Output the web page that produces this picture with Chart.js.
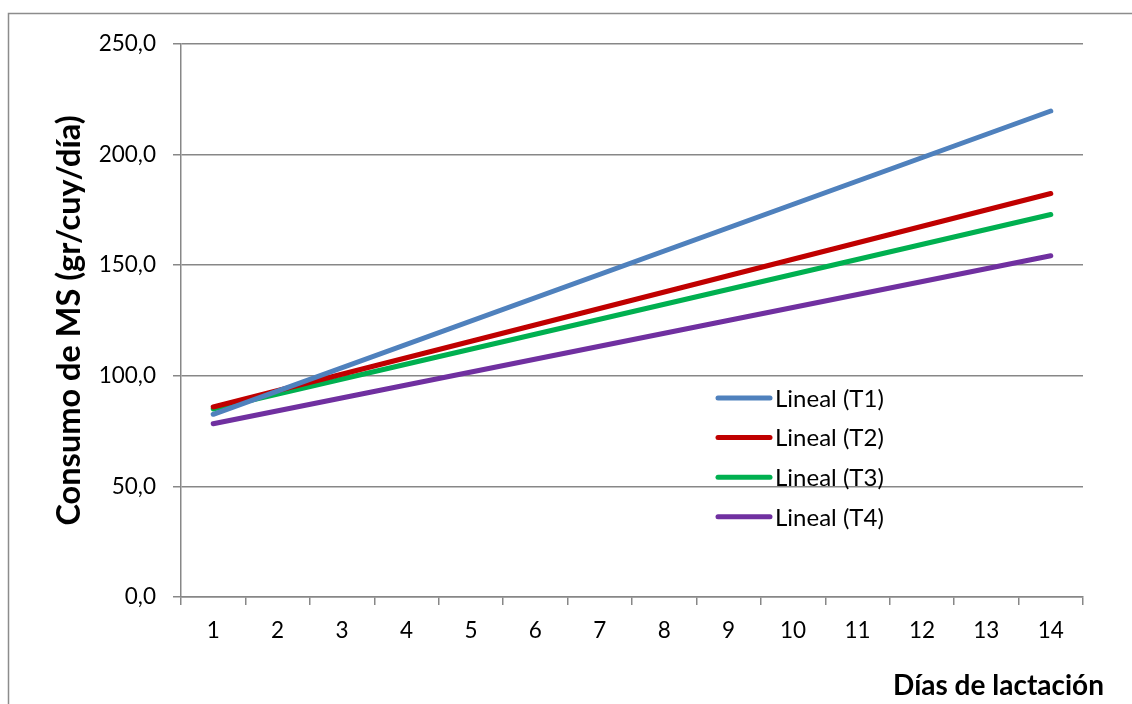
<!DOCTYPE html>
<html>
<head>
<meta charset="utf-8">
<script src="https://cdn.jsdelivr.net/npm/chart.js@4.4.1/dist/chart.umd.min.js"></script>
<style>
  html, body { margin: 0; padding: 0; background: #ffffff; }
  #wrap { position: relative; width: 1132px; height: 704px; }
</style>
</head>
<body>
<div id="wrap"><canvas id="c" width="1132" height="704"></canvas></div>
<script>
// Days of lactation (category axis)
const dias = ['1','2','3','4','5','6','7','8','9','10','11','12','13','14'];

// Linear trend lines: value at day 1 and at day 14 (straight segment between them)
const lineT1 = [82.6, null, null, null, null, null, null, null, null, null, null, null, null, 219.7];
const lineT2 = [85.9, null, null, null, null, null, null, null, null, null, null, null, null, 182.4];
const lineT3 = [85.0, null, null, null, null, null, null, null, null, null, null, null, null, 172.9];
const lineT4 = [78.3, null, null, null, null, null, null, null, null, null, null, null, null, 154.3];

const seriesNames = ['Lineal (T1)', 'Lineal (T2)', 'Lineal (T3)', 'Lineal (T4)'];
const yTicks = [0, 50, 100, 150, 200, 250];

const colors = ['#4F81BD', '#C00000', '#00B050', '#7030A0'];
const FONT = 'Lato, "Open Sans", sans-serif';
const GRID = '#878787';

const fmt = v => v.toFixed(1).replace('.', ',');

// Outer frame, x-axis title and the in-plot legend
const decor = {
  id: 'decor',
  beforeDraw(chart) {
    const ctx = chart.ctx;
    ctx.save();
    ctx.fillStyle = '#ffffff';
    ctx.fillRect(0, 0, chart.width, chart.height);
    ctx.strokeStyle = '#8c8c8c';
    ctx.lineWidth = 1.5;
    ctx.beginPath();
    ctx.moveTo(8.5, 710);
    ctx.lineTo(8.5, 13.5);
    ctx.lineTo(1140, 13.5);
    ctx.stroke();
    ctx.restore();
  },
  afterDraw(chart) {
    const ctx = chart.ctx;
    ctx.save();
    ctx.fillStyle = '#000000';
    ctx.font = 'bold 28px ' + FONT;
    ctx.textAlign = 'right';
    ctx.textBaseline = 'alphabetic';
    ctx.fillText('Días de lactación', 1104, 695);

    // legend
    ctx.font = '24px ' + FONT;
    ctx.textAlign = 'left';
    ctx.textBaseline = 'middle';
    chart.data.datasets.forEach((ds, i) => {
      const y = 398 + i * 39.6;
      ctx.strokeStyle = ds.borderColor;
      ctx.lineWidth = 5;
      ctx.lineCap = 'round';
      ctx.beginPath();
      ctx.moveTo(718, y);
      ctx.lineTo(770, y);
      ctx.stroke();
      ctx.fillStyle = '#000000';
      ctx.fillText(ds.label, 775, y + 1);
    });
    ctx.restore();
  }
};

const seriesData = [lineT1, lineT2, lineT3, lineT4];

new Chart(document.getElementById('c'), {
  type: 'line',
  data: {
    labels: dias,
    datasets: seriesData.map((d, i) => ({
      label: seriesNames[i],
      data: d,
      borderColor: colors[i],
      backgroundColor: colors[i],
      borderWidth: 5,
      borderCapStyle: 'round',
      pointRadius: 0,
      spanGaps: true,
      tension: 0
    }))
  },
  options: {
    responsive: false,
    animation: false,
    devicePixelRatio: 1,
    layout: { padding: { left: 50, top: 44, right: 1132 - 1083, bottom: 0 } },
    plugins: {
      legend: { display: false },
      tooltip: { enabled: false }
    },
    scales: {
      x: {
        type: 'category',
        offset: true,
        grid: {
          offset: true,
          drawOnChartArea: false,
          drawTicks: true,
          tickLength: 8,
          color: GRID,
          lineWidth: 1.5
        },
        border: { display: true, color: GRID, width: 1.5 },
        ticks: {
          color: '#000000',
          font: { family: FONT, size: 22.5 },
          padding: 12,
          maxRotation: 0,
          autoSkip: false
        },
        afterFit(scale) { scale.height = 704 - 597; }
      },
      y: {
        min: 0,
        max: 250,
        afterBuildTicks(scale) { scale.ticks = yTicks.map(v => ({ value: v })); },
        grid: {
          drawOnChartArea: true,
          drawTicks: true,
          tickLength: 8,
          color: GRID,
          lineWidth: 1.5
        },
        border: { display: true, color: GRID, width: 1.5 },
        ticks: {
          color: '#000000',
          font: { family: FONT, size: 22.5 },
          padding: 17,
          callback: v => fmt(v)
        },
        title: {
          display: true,
          text: 'Consumo de MS (gr/cuy/día)',
          color: '#000000',
          font: { family: FONT, size: 32.5, weight: 'bold' },
          padding: { top: 0, bottom: 0 }
        },
        afterFit(scale) { scale.width = 181 - 50; }
      }
    }
  },
  plugins: [decor]
});
</script>
</body>
</html>
